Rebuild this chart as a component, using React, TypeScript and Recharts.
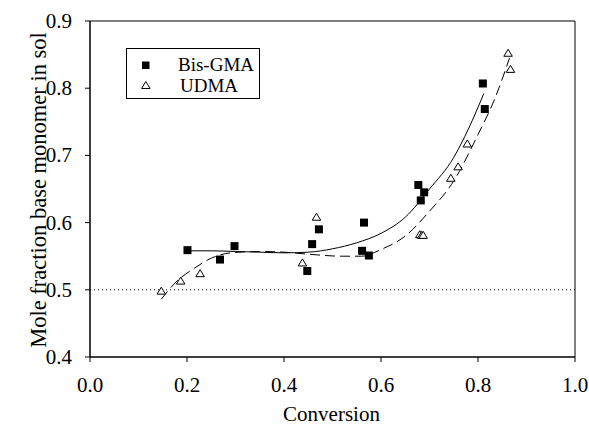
import React from "react";
import {
  ComposedChart,
  XAxis,
  YAxis,
  Scatter,
  Line,
  ReferenceLine,
  ReferenceArea,
} from "recharts";

const FONT = '"Liberation Serif", "Times New Roman", serif';

// Bis-GMA measured points [conversion, mole fraction]
const bisConv = [0.201, 0.268, 0.298, 0.448, 0.458, 0.472, 0.565, 0.561, 0.575, 0.677, 0.689, 0.682, 0.810, 0.814];
const bisFrac = [0.559, 0.545, 0.565, 0.528, 0.568, 0.590, 0.600, 0.558, 0.551, 0.656, 0.645, 0.633, 0.807, 0.769];

// UDMA measured points
const udmaConv = [0.147, 0.187, 0.227, 0.438, 0.467, 0.680, 0.684, 0.687, 0.744, 0.759, 0.778, 0.862, 0.867];
const udmaFrac = [0.497, 0.512, 0.523, 0.539, 0.607, 0.581, 0.580, 0.580, 0.665, 0.682, 0.716, 0.851, 0.827];

// Fitted curves
const bisFitConv = [0.201, 0.25, 0.30, 0.35, 0.40, 0.45, 0.50, 0.55, 0.60, 0.65, 0.70, 0.75, 0.78, 0.812];
const bisFitFrac = [0.558, 0.558, 0.557, 0.556, 0.555, 0.556, 0.561, 0.570, 0.584, 0.608, 0.650, 0.697, 0.739, 0.792];

const udmaFitConv = [0.147, 0.175, 0.215, 0.25, 0.29, 0.35, 0.40, 0.45, 0.52, 0.56, 0.60, 0.65, 0.70, 0.75, 0.80, 0.835, 0.865];
const udmaFitFrac = [0.486, 0.510, 0.532, 0.547, 0.555, 0.557, 0.556, 0.553, 0.550, 0.550, 0.560, 0.580, 0.617, 0.662, 0.731, 0.785, 0.845];

const xTicks = [0, 0.2, 0.4, 0.6, 0.8, 1.0];
const yTicks = [0.4, 0.5, 0.6, 0.7, 0.8, 0.9];
const refLevel = 0.5;
const seriesNames = ["Bis-GMA", "UDMA"];

const zip = (xs: number[], ys: number[]) => xs.map((x, i) => ({ x, y: ys[i] }));

const bisData = zip(bisConv, bisFrac);
const udmaData = zip(udmaConv, udmaFrac);
const bisFit = zip(bisFitConv, bisFitFrac);
const udmaFit = zip(udmaFitConv, udmaFitFrac);

const textStyle = { fontFamily: FONT, fontSize: 21, fill: "#000" };

const Square = (props: any) => {
  const { cx, cy } = props;
  if (cx == null || cy == null) return null;
  return <rect x={cx - 4} y={cy - 4} width={8} height={8} fill="#000" />;
};

const Triangle = (props: any) => {
  const { cx, cy } = props;
  if (cx == null || cy == null) return null;
  const h = 7;
  const w = 8.5;
  const pts = `${cx},${cy - (2 * h) / 3} ${cx - w / 2},${cy + h / 3} ${cx + w / 2},${cy + h / 3}`;
  return <polygon points={pts} fill="#fff" stroke="#000" strokeWidth={1} />;
};

const XTick = (props: any) => {
  const { x, y, payload } = props;
  return (
    <text x={x} y={y} dy={16} textAnchor="middle" style={textStyle}>
      {Number(payload.value).toFixed(1)}
    </text>
  );
};

const YTick = (props: any) => {
  const { x, y, payload } = props;
  return (
    <text x={x} y={y} dy={7} textAnchor="end" style={textStyle}>
      {Number(payload.value).toFixed(1)}
    </text>
  );
};

const XLabel = (props: any) => {
  const vb = props.viewBox || {};
  const cx = (vb.x ?? 90) + (vb.width ?? 485) / 2;
  return (
    <text x={cx - 1} y={421} textAnchor="middle" style={textStyle}>
      Conversion
    </text>
  );
};

const YLabel = (props: any) => {
  const vb = props.viewBox || {};
  const cy = (vb.y ?? 21) + (vb.height ?? 336) / 2 + 1;
  return (
    <text
      x={46}
      y={cy}
      textAnchor="middle"
      transform={`rotate(-90 46 ${cy})`}
      style={{ ...textStyle, fontSize: 22.5 }}
    >
      Mole fraction base monomer in sol
    </text>
  );
};

const LegendBox = () => (
  <svg
    width={589}
    height={429}
    style={{ position: "absolute", left: 0, top: 0, pointerEvents: "none" }}
  >
    <rect x={126.5} y={48.5} width={133} height={50} fill="#fff" stroke="#000" strokeWidth={1} />
    <rect x={142} y={61.5} width={7.5} height={7.5} fill="#000" />
    <polygon points="145.8,81.5 141.6,88.5 150,88.5" fill="#fff" stroke="#000" strokeWidth={1} />
    <text x={178} y={71} style={{ fontFamily: FONT, fontSize: 19, fill: "#000" }}>
      {seriesNames[0]}
    </text>
    <text x={180} y={91.5} style={{ fontFamily: FONT, fontSize: 19, fill: "#000" }}>
      {seriesNames[1]}
    </text>
  </svg>
);

export default function App() {
  return (
    <div style={{ position: "absolute", left: 0, top: 0, width: 589, height: 429, background: "#fff", fontFamily: FONT }}>
      <ComposedChart width={589} height={429} margin={{ top: 21, right: 14, left: 0, bottom: 0 }}>
        <XAxis
          type="number"
          dataKey="x"
          domain={[0, 1]}
          ticks={xTicks}
          height={72}
          tickSize={5}
          tickMargin={14}
          allowDataOverflow
          stroke="#000"
          tick={<XTick />}
          label={<XLabel />}
        />
        <YAxis
          type="number"
          dataKey="y"
          domain={[0.4, 0.9]}
          ticks={yTicks}
          width={90}
          tickSize={5}
          tickMargin={13}
          allowDataOverflow
          stroke="#000"
          tick={<YTick />}
          label={<YLabel />}
        />
        <ReferenceArea x1={0} x2={1} y1={0.4} y2={0.9} fill="none" stroke="#000" strokeWidth={1} ifOverflow="visible" />
        <ReferenceLine y={refLevel} stroke="#000" strokeDasharray="1 3" strokeWidth={1} />
        <Line
          data={bisFit}
          dataKey="y"
          type="monotone"
          stroke="#000"
          strokeWidth={1}
          dot={false}
          activeDot={false}
          isAnimationActive={false}
        />
        <Line
          data={udmaFit}
          dataKey="y"
          type="monotone"
          stroke="#000"
          strokeWidth={1}
          strokeDasharray="10 5"
          dot={false}
          activeDot={false}
          isAnimationActive={false}
        />
        <Scatter name={seriesNames[0]} data={bisData} dataKey="y" shape={<Square />} isAnimationActive={false} />
        <Scatter name={seriesNames[1]} data={udmaData} dataKey="y" shape={<Triangle />} isAnimationActive={false} />
      </ComposedChart>
      <LegendBox />
    </div>
  );
}
